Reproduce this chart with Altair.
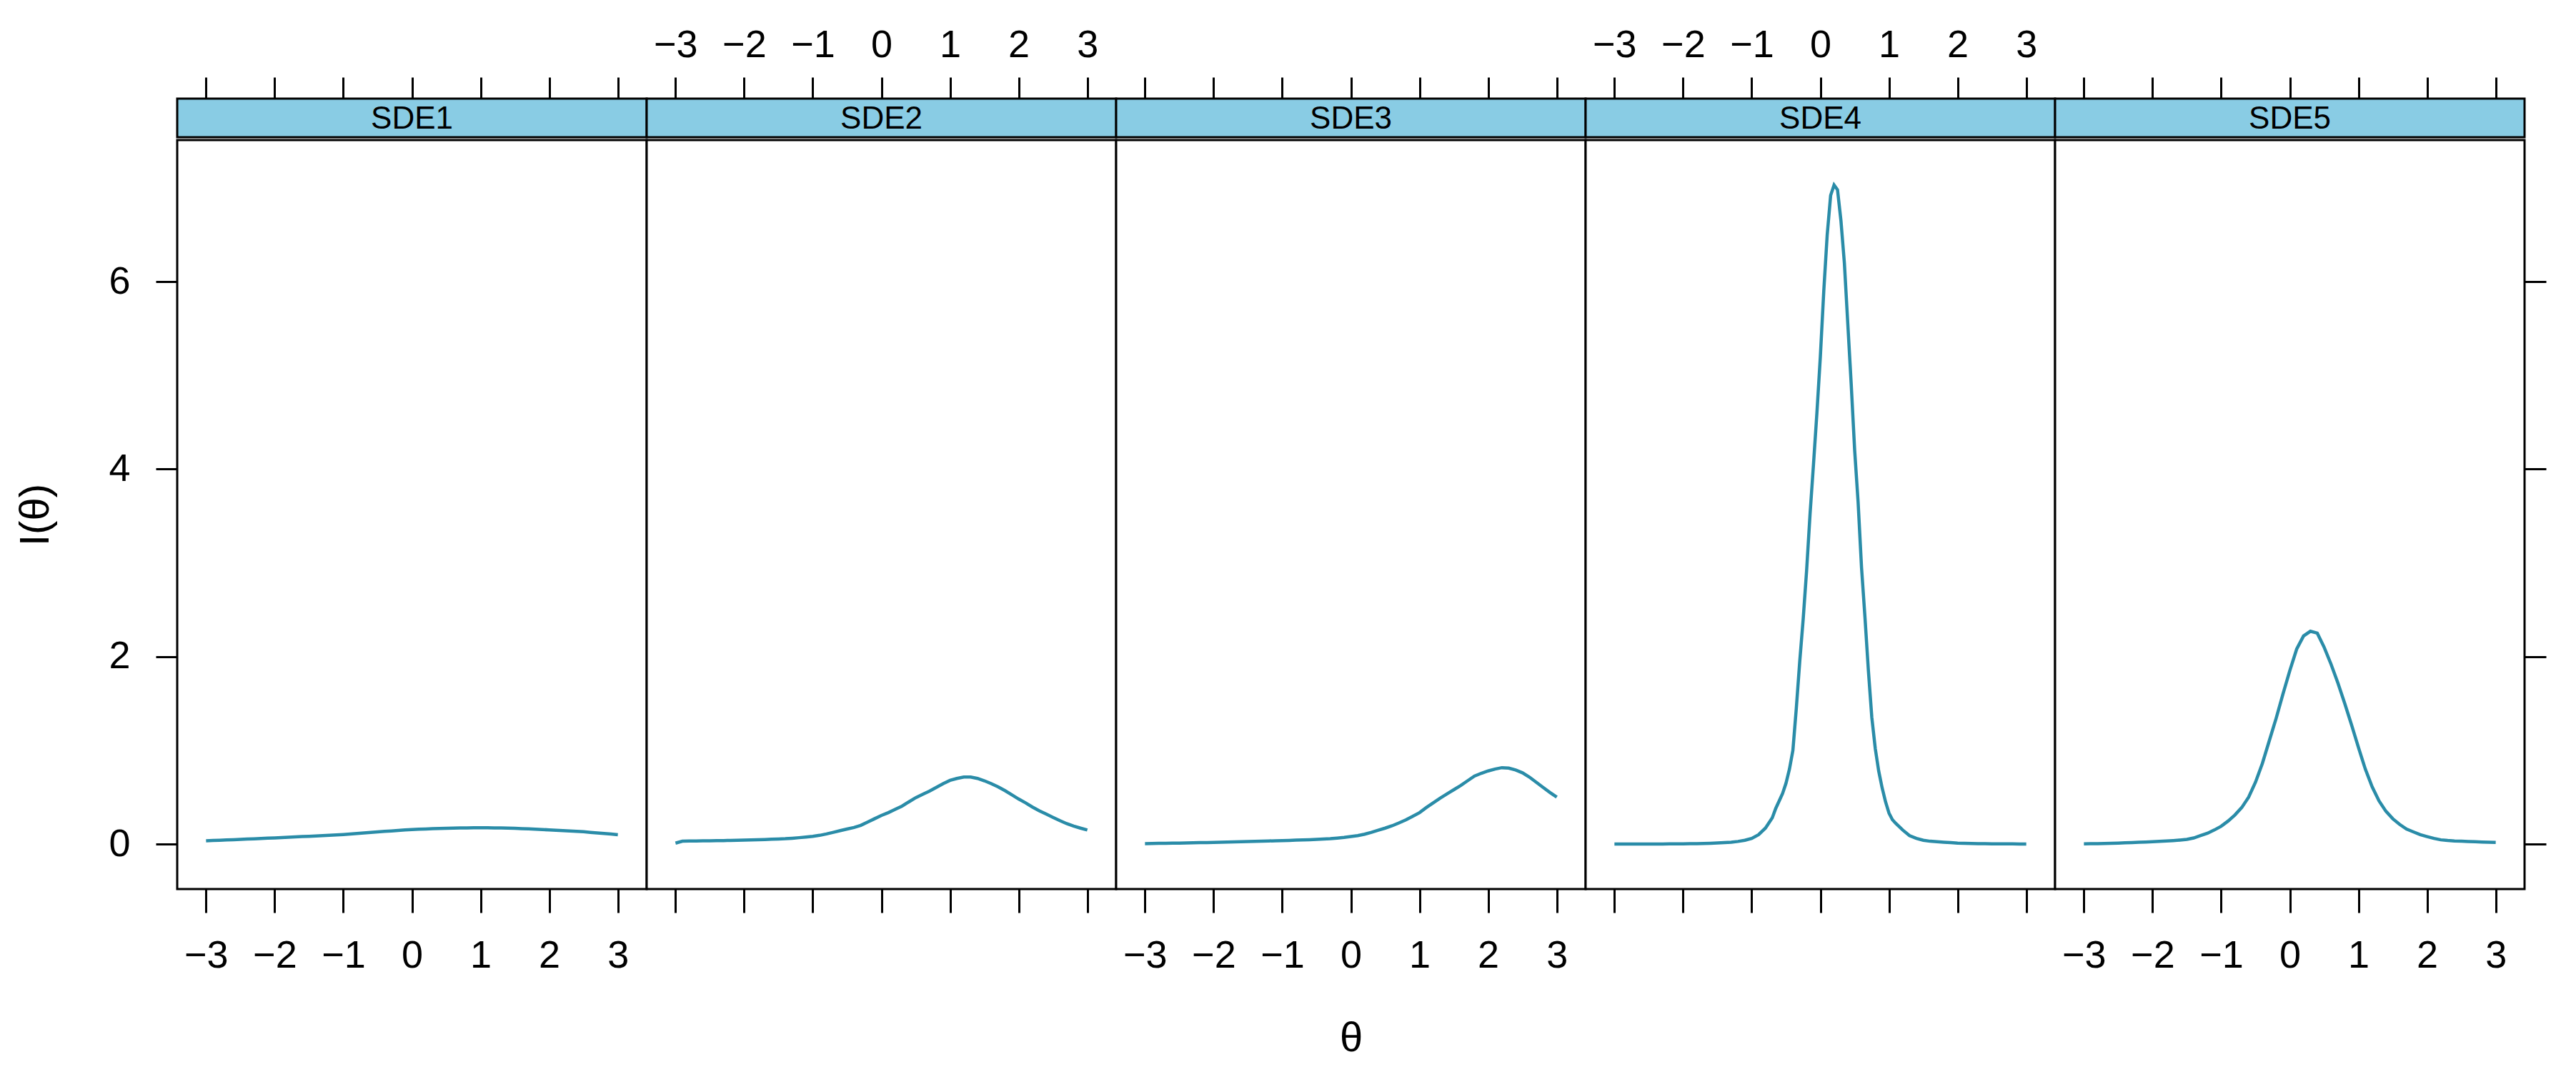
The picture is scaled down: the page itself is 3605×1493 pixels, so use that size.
import altair as alt
import pandas as pd

theta = [-3.0, -2.9, -2.8, -2.7, -2.6, -2.5, -2.4, -2.3, -2.2, -2.1,
         -2.0, -1.9, -1.8, -1.7, -1.6, -1.5, -1.4, -1.3, -1.2, -1.1,
         -1.0, -0.9, -0.8, -0.7, -0.6, -0.5, -0.4, -0.3, -0.2, -0.1,
         0.0, 0.1, 0.2, 0.3, 0.4, 0.5, 0.6, 0.7, 0.8, 0.9,
         1.0, 1.1, 1.2, 1.3, 1.4, 1.5, 1.6, 1.7, 1.8, 1.9,
         2.0, 2.1, 2.2, 2.3, 2.4, 2.5, 2.6, 2.7, 2.8, 2.9, 3.0]

# finer grid around the narrow SDE4 peak
theta4 = [-3.0, -2.9, -2.8, -2.7, -2.6, -2.5, -2.4, -2.3, -2.2, -2.1,
          -2.0, -1.9, -1.8, -1.7, -1.6, -1.5, -1.4, -1.3, -1.2, -1.1,
          -1.0, -0.9, -0.8,
          -0.7, -0.65, -0.6, -0.55, -0.5, -0.45, -0.4, -0.35, -0.3, -0.25,
          -0.2, -0.15, -0.1, -0.05, 0.0, 0.05, 0.1, 0.15, 0.2, 0.25,
          0.3, 0.35, 0.4, 0.45, 0.5, 0.55, 0.6, 0.65, 0.7, 0.75,
          0.8, 0.85, 0.9, 0.95, 1.0, 1.05, 1.1,
          1.2, 1.3, 1.4, 1.5, 1.6, 1.7, 1.8, 1.9, 2.0, 2.1,
          2.2, 2.3, 2.4, 2.5, 2.6, 2.7, 2.8, 2.9, 3.0]

sde1 = [0.035, 0.038, 0.041, 0.044, 0.047, 0.050, 0.053, 0.056, 0.060, 0.063,
        0.066, 0.069, 0.073, 0.076, 0.080, 0.083, 0.087, 0.090, 0.094, 0.098,
        0.102, 0.107, 0.113, 0.119, 0.125, 0.130, 0.135, 0.140, 0.145, 0.150,
        0.155, 0.158, 0.161, 0.164, 0.166, 0.168, 0.170, 0.171, 0.172, 0.173,
        0.173, 0.173, 0.172, 0.171, 0.170, 0.168, 0.165, 0.162, 0.159, 0.155,
        0.151, 0.147, 0.143, 0.139, 0.135, 0.131, 0.125, 0.119, 0.113, 0.107, 0.100]

sde2 = [0.010, 0.030, 0.032, 0.033, 0.034, 0.035, 0.036, 0.037, 0.039, 0.040,
        0.042, 0.044, 0.046, 0.048, 0.051, 0.054, 0.057, 0.062, 0.068, 0.075,
        0.083, 0.093, 0.108, 0.125, 0.143, 0.160, 0.177, 0.200, 0.235, 0.270,
        0.305, 0.335, 0.370, 0.405, 0.450, 0.495, 0.530, 0.565, 0.605, 0.645,
        0.680, 0.700, 0.715, 0.715, 0.700, 0.675, 0.645, 0.610, 0.570, 0.525,
        0.480, 0.440, 0.395, 0.355, 0.320, 0.285, 0.250, 0.218, 0.192, 0.170, 0.150]

sde3 = [0.005, 0.006, 0.007, 0.008, 0.009, 0.010, 0.012, 0.013, 0.015, 0.016,
        0.018, 0.019, 0.021, 0.023, 0.025, 0.027, 0.029, 0.031, 0.033, 0.035,
        0.037, 0.039, 0.042, 0.045, 0.047, 0.050, 0.053, 0.057, 0.064, 0.071,
        0.080, 0.090, 0.105, 0.125, 0.148, 0.170, 0.195, 0.225, 0.258, 0.295,
        0.335, 0.390, 0.440, 0.490, 0.535, 0.580, 0.625, 0.675, 0.725, 0.755,
        0.780, 0.800, 0.815, 0.810, 0.790, 0.760, 0.715, 0.660, 0.605, 0.550, 0.500]

sde4 = [0.000, 0.000, 0.000, 0.000, 0.001, 0.001, 0.001, 0.001, 0.002, 0.002,
        0.003, 0.004, 0.005, 0.006, 0.008, 0.011, 0.015, 0.020, 0.028, 0.040,
        0.060, 0.100, 0.170,
        0.280, 0.380, 0.460, 0.540, 0.650, 0.800, 1.000, 1.450, 1.950, 2.400,
        2.920, 3.520, 4.050, 4.600, 5.200, 5.900, 6.500, 6.920, 7.030, 6.980,
        6.650, 6.200, 5.550, 4.900, 4.200, 3.650, 2.950, 2.420, 1.850, 1.350,
        1.020, 0.780, 0.600, 0.450, 0.330, 0.260, 0.220,
        0.150, 0.090, 0.060, 0.040, 0.030, 0.025, 0.020, 0.015, 0.010, 0.008,
        0.006, 0.005, 0.004, 0.003, 0.003, 0.002, 0.002, 0.001, 0.001]

sde5 = [0.003, 0.004, 0.005, 0.006, 0.008, 0.010, 0.013, 0.016, 0.019, 0.022,
        0.025, 0.028, 0.032, 0.037, 0.043, 0.050, 0.065, 0.090, 0.115, 0.150,
        0.190, 0.245, 0.310, 0.390, 0.500, 0.660, 0.860, 1.100, 1.340, 1.600,
        1.850, 2.080, 2.220, 2.270, 2.250, 2.100, 1.920, 1.720, 1.500, 1.270,
        1.030, 0.800, 0.610, 0.460, 0.350, 0.270, 0.210, 0.160, 0.130, 0.100,
        0.080, 0.060, 0.045, 0.038, 0.033, 0.030, 0.027, 0.025, 0.022, 0.020, 0.018]

names = ["SDE1", "SDE2", "SDE3", "SDE4", "SDE5"]
series = [sde1, sde2, sde3, sde4, sde5]
grids = [theta, theta, theta, theta4, theta]
x_ticks = [-3, -2, -1, 0, 1, 2, 3]
y_ticks = [0, 2, 4, 6]

FONT = "'Liberation Sans Narrow', 'Liberation Sans', Arial, sans-serif"
W = 657
STRIP_H = 54
MAIN_H = 1048
XDOM = [-3.42, 3.42]
YDOM = [-0.48, 7.51]
LINE_COLOR = "#2A8CA8"
STRIP_COLOR = "#89CCE4"
LABEL_SIZE = 54


def x_scale():
    return alt.Scale(domain=XDOM, nice=False, zero=False)


def strip_chart(i):
    strip_df = pd.DataFrame({"panel": [names[i]]})
    top_axis = alt.Axis(orient="top", values=x_ticks, labels=(i in (1, 3)),
                        ticks=True, tickSize=30, tickWidth=3, tickColor="black",
                        domain=False, grid=False, labelFont=FONT,
                        labelFontSize=LABEL_SIZE, labelColor="black",
                        labelPadding=18, title=None, format="d")
    return alt.Chart(strip_df).mark_text(
        font=FONT, fontSize=44, color="black", baseline="middle", align="center"
    ).encode(
        x=alt.XDatum(0, type="quantitative", scale=x_scale(), axis=top_axis),
        y=alt.value(STRIP_H / 2 + 2),
        text="panel:N",
    ).properties(
        width=W, height=STRIP_H,
        view=alt.ViewBackground(fill=STRIP_COLOR, stroke="black", strokeWidth=3),
    )


def main_chart(i):
    df = pd.DataFrame({"theta": grids[i], "info": series[i]})
    bottom_kwargs = dict(orient="bottom", values=x_ticks, labels=(i in (0, 2, 4)),
                         ticks=True, tickSize=33, tickWidth=3, tickColor="black",
                         domain=False, grid=False, labelFont=FONT,
                         labelFontSize=LABEL_SIZE, labelColor="black",
                         labelPadding=33, format="d")
    if i == 2:
        bottom_axis = alt.Axis(title="θ", titleFont=FONT, titleFontSize=58,
                               titleFontWeight="normal", titleColor="black",
                               titlePadding=60, **bottom_kwargs)
    else:
        bottom_axis = alt.Axis(title=None, **bottom_kwargs)

    if i == 0:
        y_axis = alt.Axis(orient="left", values=y_ticks, labels=True, ticks=True,
                          tickSize=30, tickWidth=3, tickColor="black", domain=False,
                          grid=False, labelFont=FONT, labelFontSize=LABEL_SIZE,
                          labelColor="black", labelPadding=36, format="d",
                          title="I(θ)", titleFont=FONT, titleFontSize=58,
                          titleFontWeight="normal", titleColor="black",
                          titlePadding=72)
    elif i == 4:
        y_axis = alt.Axis(orient="right", values=y_ticks, labels=False, ticks=True,
                          tickSize=30, tickWidth=3, tickColor="black", domain=False,
                          grid=False, title=None)
    else:
        y_axis = None

    return alt.Chart(df).mark_line(color=LINE_COLOR, strokeWidth=4.5).encode(
        x=alt.X("theta:Q", scale=x_scale(), axis=bottom_axis),
        y=alt.Y("info:Q", scale=alt.Scale(domain=YDOM, nice=False, zero=False),
                axis=y_axis),
    ).properties(
        width=W, height=MAIN_H,
        view=alt.ViewBackground(fill="white", stroke="black", strokeWidth=3),
    )


strips = alt.hconcat(*[strip_chart(i) for i in range(5)], spacing=0, bounds="flush")
mains = alt.hconcat(*[main_chart(i) for i in range(5)], spacing=0, bounds="flush")

chart = alt.vconcat(strips, mains, spacing=0)
chart = chart.configure_view(stroke="black", strokeWidth=3).configure(
    background="white", padding={"left": 12, "top": 26, "right": 5, "bottom": 5}
)

chart.save("out.html", embed_options={"renderer": "svg", "actions": False})
